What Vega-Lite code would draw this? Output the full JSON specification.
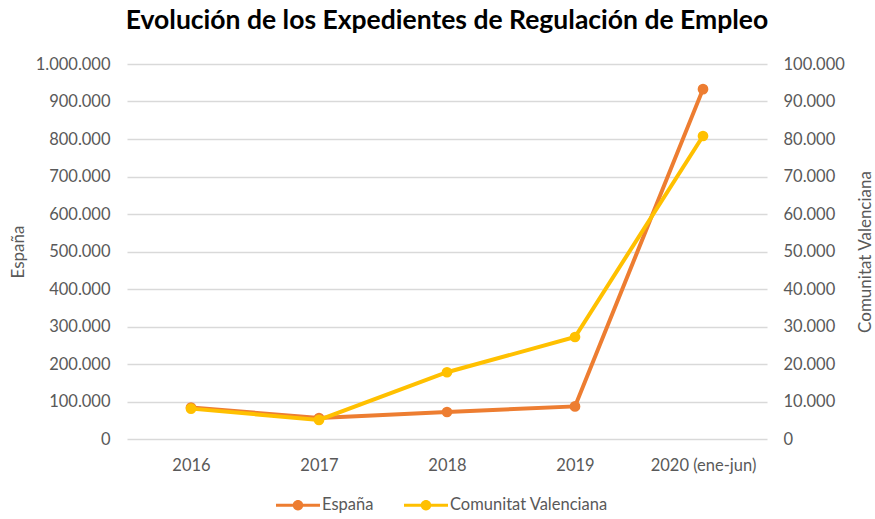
{
  "$schema": "https://vega.github.io/schema/vega-lite/v6.json",
  "width": 640,
  "height": 375,
  "autosize": "none",
  "padding": {"left": 127, "right": 108, "top": 64, "bottom": 80},
  "background": "white",
  "title": {
    "text": "Evolución de los Expedientes de Regulación de Empleo",
    "font": "Lato",
    "fontSize": 26.5,
    "fontWeight": "bold",
    "color": "#000000",
    "anchor": "middle",
    "offset": 22
  },
  "config": {
    "locale": {"number": {"decimal": ",", "thousands": ".", "grouping": [3], "currency": ["", " €"]}},
    "view": {"stroke": null},
    "font": "Lato",
    "axis": {
      "labelFont": "Lato",
      "labelFontSize": 16.5,
      "labelColor": "#595959",
      "titleFont": "Lato",
      "titleFontSize": 17,
      "titleFontWeight": "normal",
      "titleColor": "#595959",
      "domain": false,
      "ticks": false,
      "gridColor": "#d9d9d9",
      "gridWidth": 1.3
    }
  },
  "data": {
    "values": [
      {"year": "2016", "series": "España", "value": 84000},
      {"year": "2017", "series": "España", "value": 56000},
      {"year": "2018", "series": "España", "value": 72000},
      {"year": "2019", "series": "España", "value": 87000},
      {"year": "2020 (ene-jun)", "series": "España", "value": 933000},
      {"year": "2016", "series": "Comunitat Valenciana", "value": 8100},
      {"year": "2017", "series": "Comunitat Valenciana", "value": 5100},
      {"year": "2018", "series": "Comunitat Valenciana", "value": 17800},
      {"year": "2019", "series": "Comunitat Valenciana", "value": 27200},
      {"year": "2020 (ene-jun)", "series": "Comunitat Valenciana", "value": 80800}
    ]
  },
  "encoding": {
    "x": {
      "field": "year",
      "type": "ordinal",
      "sort": null,
      "scale": {"type": "point", "padding": 0.5},
      "axis": {"title": null, "labelAngle": 0, "grid": false, "labelPadding": 18}
    },
    "color": {
      "field": "series",
      "type": "nominal",
      "scale": {"domain": ["España", "Comunitat Valenciana"], "range": ["#ED7D31", "#FFC000"]},
      "legend": {
        "title": null,
        "orient": "none",
        "legendX": 149,
        "legendY": 419,
        "direction": "horizontal",
        "labelFont": "Lato",
        "labelFontSize": 16.5,
        "labelColor": "#595959",
        "symbolType": "M-1,-0.07L-0.22,-0.07L-0.22,0.07L-1,0.07Z M0.22,-0.07L1,-0.07L1,0.07L0.22,0.07Z M-0.24,0A0.24,0.24 0 1,1 0.24,0A0.24,0.24 0 1,1 -0.24,0Z",
        "symbolSize": 1936,
        "symbolStrokeWidth": 0,
        "symbolOpacity": 1,
        "labelOffset": 2,
        "columnPadding": 30
      }
    }
  },
  "layer": [
    {
      "transform": [{"filter": "datum.series === 'España'"}],
      "mark": {"type": "line", "strokeWidth": 4, "point": {"filled": true, "size": 115, "opacity": 1}},
      "encoding": {
        "y": {
          "field": "value",
          "type": "quantitative",
          "scale": {"domain": [0, 1000000], "nice": false},
          "axis": {"title": "España", "orient": "left", "values": [0, 100000, 200000, 300000, 400000, 500000, 600000, 700000, 800000, 900000, 1000000], "format": ",d", "labelPadding": 17, "titlePadding": 8}
        }
      }
    },
    {
      "transform": [{"filter": "datum.series === 'Comunitat Valenciana'"}],
      "mark": {"type": "line", "strokeWidth": 4, "point": {"filled": true, "size": 115, "opacity": 1}},
      "encoding": {
        "y": {
          "field": "value",
          "type": "quantitative",
          "scale": {"domain": [0, 100000], "nice": false},
          "axis": {"title": "Comunitat Valenciana", "orient": "right", "grid": false, "values": [0, 10000, 20000, 30000, 40000, 50000, 60000, 70000, 80000, 90000, 100000], "format": ",d", "labelPadding": 16, "titlePadding": 30, "titleAngle": -90}
        }
      }
    }
  ],
  "resolve": {"scale": {"y": "independent"}}
}
